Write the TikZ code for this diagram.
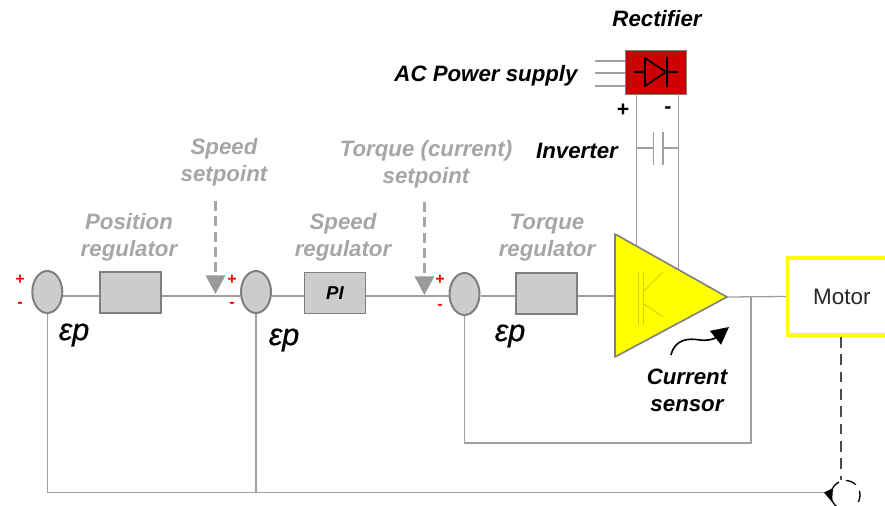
\documentclass[tikz,border=0pt]{standalone}
\usepackage{fontspec}
\setmainfont{Liberation Sans}
\newfontface\epfont{Liberation Sans Italic}[FakeBold=0.6]
\usetikzlibrary{arrows.meta,calc,shapes.geometric}
\definecolor{wiregray}{HTML}{A0A0A0}
\definecolor{blockfill}{HTML}{CCCCCC}
\definecolor{blockedge}{HTML}{7F7F7F}
\definecolor{labelgray}{HTML}{A6A6A6}
\definecolor{headgray}{HTML}{999999}
\definecolor{rectred}{HTML}{CC0000}
\definecolor{igbt}{HTML}{D2D200}
\definecolor{yel}{HTML}{FFFF00}
\tikzset{
  wire/.style={draw=wiregray,line width=0.95pt},
  sumnode/.style={ellipse,draw=blockedge,fill=blockfill,line width=1.5pt,minimum width=22.5pt,minimum height=31.5pt,inner sep=0pt},
  regblock/.style={rectangle,draw=blockedge,fill=blockfill,line width=1.2pt,minimum width=46pt,minimum height=31pt,inner sep=0pt},
  graylabel/.style={text=labelgray,font=\fontsize{16.7}{20}\selectfont\bfseries\itshape,align=center,inner sep=0pt},
  blacklabel/.style={text=black,font=\fontsize{16.7}{20}\selectfont\bfseries\itshape,align=center,inner sep=0pt},
  eplabel/.style={text=black,font=\fontsize{23}{23}\selectfont\epfont,inner sep=0pt},
  signlabel/.style={text=red,font=\fontsize{12}{12}\selectfont\bfseries,inner sep=0pt},
  dclabel/.style={text=black,font=\fontsize{16}{16}\selectfont\bfseries,inner sep=0pt},
  setarrow/.style={draw=labelgray,line width=1.9pt,dash pattern=on 7.5pt off 4pt,-{Triangle[length=14pt,width=14.5pt,color=headgray]}},
}
\begin{document}
\begin{tikzpicture}[x=0.75pt,y=-0.75pt]
\useasboundingbox (0,0) rectangle (885,506);
% coordinates
\coordinate (triTL) at (615,234);
\coordinate (triBL) at (615,357);
\coordinate (triTip) at (727,297);
\coordinate (triIn) at (615,296);
\coordinate (dcLtop) at (636.5,94.5);
\coordinate (dcLbot) at (636.5,246);
\coordinate (dcRtop) at (678.5,94.5);
\coordinate (dcRbot) at (678.5,270);
\coordinate (fbTap) at (751,297);
\coordinate (fbCorner) at (751,443);
\coordinate (fbLeft) at (464.5,443);
\coordinate (outerEnd) at (826,492.5);
\coordinate (acA) at (595,61);
\coordinate (acB) at (595,73);
\coordinate (acC) at (595,86);
\coordinate (capLw) at (636.5,148);
\coordinate (capRw) at (678.5,148);
\coordinate (capL) at (653.5,148);
\coordinate (capR) at (663,148);
\coordinate (spdTop) at (215.5,201);
\coordinate (spdTip) at (215.5,294);
\coordinate (trqTop) at (424.4,202);
\coordinate (trqTip) at (424.4,295);
\coordinate (sensFrom) at (671,355);
\coordinate (sensMid) at (700,340);
\coordinate (sensTo) at (729,327);
\coordinate (encTop) at (841,480);

% blocks
\node[sumnode] (s1) at (47.3,292) {};
\node[sumnode] (s2) at (256,292) {};
\node[sumnode] (s3) at (464.5,294) {};
\node[regblock] (r1) at (130.5,292.5) {};
\node[regblock,text=black,font=\fontsize{14}{14}\selectfont\bfseries\itshape] (r2) at (335,293) {PI};
\node[regblock] (r3) at (546.5,293.5) {};
\node[draw=yel,line width=2.6pt,fill=white,minimum width=79.5pt,minimum height=58pt,inner sep=0pt,font=\fontsize{16.8}{18}\selectfont,text=black!85] (motor) at (840.5,296.5) {\hspace*{2pt}Motor};
\node[rectangle,draw=blockedge,fill=rectred,line width=0.8pt,minimum width=46pt,minimum height=33pt,inner sep=0pt] (rect) at (656,72.5) {};

% wires: the signal path runs slightly below the block centres
\draw[wire] ($(s1.east)+(0,4)$) -- ($(r1.west)+(0,3.5)$);
\draw[wire] ($(r1.east)+(0,3.5)$) -- ($(s2.west)+(0,4)$);
\draw[wire] ($(s2.east)+(0,4)$) -- ($(r2.west)+(0,3)$);
\draw[wire] ($(r2.east)+(0,3)$) -- ($(s3.west)+(0,2)$);
\draw[wire] ($(s3.east)+(0,2)$) -- ($(r3.west)+(0,2.5)$);
\draw[wire] ($(r3.east)+(0,2.5)$) -- (triIn);
\draw[wire] (triTip) -- (motor.west);
\draw[wire] (dcLtop) -- (dcLbot);
\draw[wire] (dcRtop) -- (dcRbot);
\draw[wire] (fbTap) -- (fbCorner) -- (fbLeft) -- (s3.south);
\draw[wire] (s1.south) |- (outerEnd);
\draw[wire] (s2.south) -- (s2.south |- outerEnd);
\draw[wire] (acA) -- (acA -| rect.west);
\draw[wire] (acB) -- (acB -| rect.west);
\draw[wire] (acC) -- (acC -| rect.west);
\draw[wire] (capLw) -- (capL);
\draw[wire] (capRw) -- (capR);
\draw[wire] (653.5,132) -- (653.5,165);
\draw[wire] (663,132) -- (663,165);

% inverter triangle
\draw[draw=blockedge,fill=yel,line width=1.2pt,line join=round] (triTL) -- (triBL) -- (triTip) -- cycle;
\draw[igbt,line width=0.7pt] (638.5,272) -- (638.5,325) (643,272) -- (643,325);
\draw[igbt,line width=0.7pt] (644,291) -- (663,272) (644,304) -- (663,317);

% diode
\draw[black,line width=1.3pt,line join=round] (645,58) -- (666,72) -- (645,86) -- cycle;
\draw[black,line width=1.3pt] (634,72) -- (645,72) (667,57) -- (667,87) (666,72) -- (678,72);

% setpoint arrows
\draw[setarrow] (spdTop) -- (spdTip);
\draw[setarrow] (trqTop) -- (trqTip);

% sensor arrow
\draw[black,line width=1.2pt,-{Triangle[length=13pt,width=13pt]}] (sensFrom) .. controls (675,339) and (688,338) .. (sensMid) .. controls (708,341) and (714,339) .. (sensTo);

% encoder
\draw[black,line width=1pt,dash pattern=on 8.4pt off 5.2pt,dash phase=3pt] (845.5,495) circle[radius=14.5];
\draw[blockedge!60!black,line width=1.5pt,dash pattern=on 8pt off 5pt] (motor.south -| encTop) -- (encTop);
\fill[black] (824,492.5) -- (833,488) -- (832,502) -- cycle;

% labels
\node[graylabel] (l1) at (129,237.5) {Position\\regulator};
\node[graylabel] (l2) at (343,237.5) {Speed\\regulator};
\node[graylabel] (l3) at (547,237.5) {Torque\\regulator};
\node[graylabel] (l4) at (224,162.5) {Speed\\setpoint};
\node[graylabel] (l5) at (426,164) {Torque (current)\\setpoint};
\node[blacklabel] (l6) at (486,76) {AC Power supply};
\node[blacklabel] (l7) at (657,19) {Rectifier};
\node[blacklabel] (l8) at (577,151) {Inverter};
\node[blacklabel] (l9) at (687,390) {Current\\sensor};
\node[eplabel] (e1) at (74,335) {εp};
\node[eplabel] (e2) at (284,340) {εp};
\node[eplabel] (e3) at (510,336) {εp};
\node[signlabel] (p1) at (20,280) {+};
\node[signlabel] (m1) at (20,305) {-};
\node[signlabel] (p2) at (232,280) {+};
\node[signlabel] (m2) at (232,305) {-};
\node[signlabel] (p3) at (440,280) {+};
\node[signlabel] (m3) at (440,307) {-};
\node[dclabel] (dcp) at (623,110) {+};
\node[dclabel] (dcm) at (668,110) {-};
\end{tikzpicture}
\end{document}
